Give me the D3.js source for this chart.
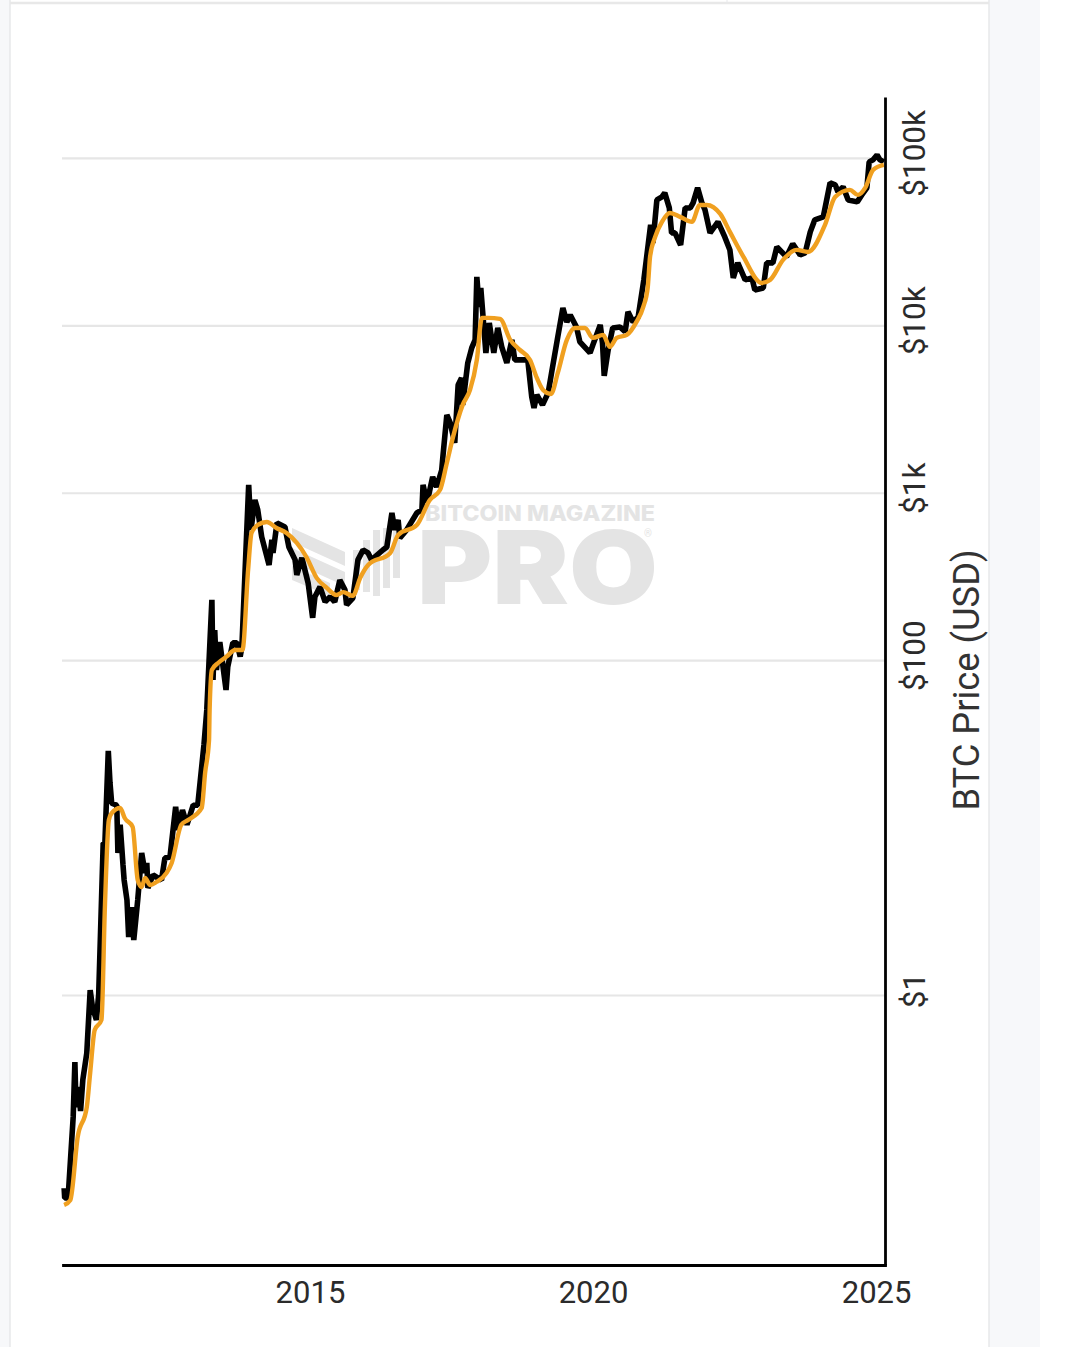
<!DOCTYPE html>
<html>
<head>
<meta charset="utf-8">
<script src="https://cdn.jsdelivr.net/npm/d3@7"></script>
<style>
  html, body { margin: 0; padding: 0; background: #fff; }
  svg { display: block; }
  text { font-family: Roboto, sans-serif; }
</style>
</head>
<body>
<svg id="chart" width="1078" height="1347"></svg>
<script>
// BTC price
const priceYears = [2010.64,2010.65,2010.71,2010.80,2010.83,2010.85,2010.89,2010.93,2010.97,2011.04,2011.10,2011.14,2011.21,2011.25,2011.33,2011.36,2011.42,2011.45,2011.48,2011.57,2011.59,2011.63,2011.68,2011.70,2011.75,2011.78,2011.83,2011.87,2011.94,2012.01,2012.07,2012.10,2012.12,2012.21,2012.36,2012.42,2012.51,2012.61,2012.65,2012.73,2012.81,2012.92,2013.00,2013.11,2013.16,2013.25,2013.27,2013.30,2013.33,2013.39,2013.50,2013.53,2013.62,2013.69,2013.75,2013.78,2013.90,2013.94,2014.01,2014.06,2014.13,2014.26,2014.31,2014.33,2014.40,2014.54,2014.61,2014.72,2014.75,2014.84,2014.95,2015.03,2015.07,2015.16,2015.25,2015.34,2015.42,2015.51,2015.60,2015.63,2015.74,2015.83,2015.92,2016.01,2016.07,2016.27,2016.34,2016.43,2016.48,2016.54,2016.57,2016.69,2016.87,2016.96,2016.98,2017.05,2017.15,2017.22,2017.31,2017.33,2017.40,2017.46,2017.54,2017.60,2017.66,2017.68,2017.77,2017.84,2017.90,2017.93,2017.97,2018.00,2018.04,2018.09,2018.15,2018.23,2018.30,2018.37,2018.46,2018.55,2018.60,2018.83,2018.90,2018.94,2018.99,2019.09,2019.19,2019.25,2019.36,2019.45,2019.52,2019.58,2019.69,2019.75,2019.93,2019.98,2020.11,2020.15,2020.18,2020.25,2020.33,2020.46,2020.55,2020.60,2020.69,2020.78,2020.88,2021.00,2021.04,2021.11,2021.20,2021.25,2021.33,2021.37,2021.43,2021.53,2021.61,2021.70,2021.75,2021.83,2021.90,2021.96,2022.05,2022.19,2022.31,2022.40,2022.46,2022.54,2022.67,2022.79,2022.84,2022.99,2023.05,2023.16,2023.23,2023.40,2023.51,2023.64,2023.73,2023.82,2023.90,2024.05,2024.17,2024.26,2024.31,2024.40,2024.49,2024.65,2024.73,2024.82,2024.86,2024.93,2025.00,2025.05,2025.12];
const priceValues = [0.0703,0.0613,0.0613,0.187,0.398,0.214,0.282,0.203,0.311,0.45,1.07,0.848,0.71,1.0,8.09,8.09,28.7,18.5,14.0,13.6,7.05,10.4,5.98,4.86,3.69,2.22,3.35,2.13,3.69,7.05,5.36,6.15,4.36,5.21,4.86,6.58,6.68,13.3,9.67,12.7,10.4,13.6,13.6,31.2,50.4,229,76.1,151,87.4,128,66.4,91,127,127,105,120,1113,600,906,790,545,370,523,437,660,625,474,397,323,408,289,179,239,274,223,239,223,301,263,214,235,397,455,437,397,455,474,757,600,688,537,600,757,790,1113,869,1243,1083,1368,1637,2916,2612,1984,4405,4850,3347,5960,7330,8185,19470,12880,16720,11220,6840,10330,6840,9645,7430,5960,8185,6213,6213,3735,3212,3840,3347,3946,5197,8530,12700,10480,11530,9780,7960,6840,7640,10050,7850,4985,7130,9645,9780,9140,12030,10480,11220,18670,39800,31050,56100,58480,61800,50240,35650,35650,30200,50240,50240,53830,66200,54600,48900,35650,41500,33730,28200,19190,23590,18670,19190,16260,16720,23590,23590,29380,25640,30620,26360,27060,36140,42660,44450,70950,69000,62660,67100,56100,54600,60100,66200,94650,97300,104200,97300,94650];

// orange moving average
const maYears = [2010.64,2010.75,2010.88,2011.04,2011.10,2011.18,2011.30,2011.36,2011.43,2011.48,2011.63,2011.71,2011.85,2011.94,2012.01,2012.07,2012.16,2012.27,2012.45,2012.54,2012.71,2012.83,2013.07,2013.13,2013.20,2013.21,2013.25,2013.36,2013.51,2013.66,2013.79,2013.89,2013.95,2014.06,2014.22,2014.39,2014.57,2014.75,2014.92,2015.10,2015.28,2015.45,2015.57,2015.74,2015.87,2016.01,2016.40,2016.54,2016.87,2017.10,2017.28,2017.40,2017.51,2017.68,2017.81,2017.93,2018.02,2018.13,2018.34,2018.52,2018.69,2018.87,2018.99,2019.10,2019.24,2019.36,2019.52,2019.66,2019.84,2019.98,2020.16,2020.28,2020.40,2020.58,2020.75,2020.87,2020.95,2020.99,2021.08,2021.20,2021.34,2021.52,2021.73,2021.87,2021.99,2022.23,2022.40,2022.64,2022.96,2023.11,2023.34,2023.58,2023.78,2024.08,2024.26,2024.52,2024.66,2024.79,2024.93,2025.12];
const maValues = [0.0557,0.0596,0.142,0.214,0.342,0.618,0.71,3.35,11.1,12.2,13.1,11.4,10.1,4.86,4.42,5.0,4.54,4.73,5.36,6.15,10.4,11.1,13.1,21.2,33.4,50.4,87.4,96.2,105,115,115,346,575,642,669,616,575,501,413,310,270,245,255,242,310,370,437,560,642,906,1040,1507,2155,3347,4110,6213,11070,11070,10920,8185,7130,6213,4850,4110,3891,5197,8185,9645,9645,8410,8770,7430,8410,8770,10480,12880,16960,25640,33730,41500,46900,44450,41500,52360,52360,46250,36140,25640,17910,18670,24600,28200,27420,39800,58480,64420,60100,66200,84800,90800];

const xTicks = [2015, 2020, 2025];
const yTicks = [1, 100, 1000, 10000, 100000];
const yTickLabels = ["$1", "$100", "$1k", "$10k", "$100k"];

const svg = d3.select("#chart");

// page behind the chart card
svg.append("rect").attr("width", 1040).attr("height", 1347).attr("fill", "#f7f8fa");
svg.append("rect").attr("x", 10).attr("y", 0).attr("width", 979).attr("height", 1347).attr("fill", "#fff");
svg.append("line").attr("x1", 10).attr("x2", 10).attr("y1", 0).attr("y2", 1347).attr("stroke", "#e7e8ea").attr("stroke-width", 1.5);
svg.append("line").attr("x1", 989).attr("x2", 989).attr("y1", 0).attr("y2", 1347).attr("stroke", "#e7e8ea").attr("stroke-width", 1.5);
svg.append("line").attr("x1", 10).attr("x2", 989).attr("y1", 3).attr("y2", 3).attr("stroke", "#e8e8e8").attr("stroke-width", 2.5);
svg.append("line").attr("x1", 727).attr("x2", 727).attr("y1", 0).attr("y2", 3).attr("stroke", "#e7e8ea");

// scales, ends picked so 2015/2020/2025 and the decades land where the picture has them
const x = d3.scaleLinear().domain([2010.62, 2025.14]).range([63, 885]);
const y = d3.scaleLog().domain([0.0244, 231000]).range([1265, 97]);

// grid lines
svg.append("g").selectAll("line").data(yTicks).enter().append("line")
  .attr("x1", 62).attr("x2", 885)
  .attr("y1", (d) => y(d) + 0.5).attr("y2", (d) => y(d) + 0.5)
  .attr("stroke", "#e6e6e6").attr("stroke-width", 2.2);

// watermark
const mark = svg.append("g").attr("fill", "#e4e4e4");
mark.append("text").attr("x", 425).attr("y", 521).attr("font-size", 22).attr("font-weight", 800)
  .style("font-family", "Inter").attr("textLength", 230).attr("lengthAdjust", "spacingAndGlyphs")
  .text("BITCOIN MAGAZINE");
mark.append("text").attr("x", 417).attr("y", 604).attr("font-size", 102).attr("font-weight", 900)
  .style("font-family", "Inter").attr("textLength", 241).attr("lengthAdjust", "spacingAndGlyphs")
  .text("PRO");
mark.append("text").attr("x", 644).attr("y", 537).attr("font-size", 10).text("®");
// logo: chevrons and candles
mark.append("path").attr("d", "M292 528 L345 552 L345 566 L292 542 Z M292 548 L345 572 L345 586 L292 562 Z M292 566 L330 583 L330 596 L292 580 Z");
mark.selectAll("rect.candle").data([[353, 550, 40], [363, 540, 52], [373, 530, 66], [383, 528, 60], [393, 530, 48]])
  .enter().append("rect").attr("class", "candle")
  .attr("x", (d) => d[0]).attr("y", (d) => d[1]).attr("width", 7).attr("height", (d) => d[2]);

// series
const priceLine = d3.line().x((d) => x(d[0])).y((d) => y(d[1]));
svg.append("path").datum(d3.zip(priceYears, priceValues))
  .attr("d", priceLine).attr("fill", "none").attr("stroke", "#000")
  .attr("stroke-width", 5.6).attr("stroke-linejoin", "bevel");
svg.append("path").datum(d3.zip(maYears, maValues))
  .attr("d", d3.line().x((d) => x(d[0])).y((d) => y(d[1])).curve(d3.curveMonotoneX))
  .attr("fill", "none").attr("stroke", "#f0a020")
  .attr("stroke-width", 4.4).attr("stroke-linejoin", "round");

// axes
const xAxis = svg.append("g").attr("transform", "translate(0,1265)")
  .call(d3.axisBottom(x).tickValues(xTicks).tickFormat(d3.format("d")).tickSize(0).tickPadding(16));
xAxis.selectAll("text").attr("font-size", 31).attr("fill", "#2b2b2b").style("font-family", "Roboto").attr("dx", -1);
xAxis.select(".domain").attr("stroke", "#000").attr("stroke-width", 2.8).attr("stroke-linecap", "square");

const yAxis = svg.append("g").attr("transform", "translate(885,0)")
  .call(d3.axisRight(y).tickValues(yTicks).tickFormat((d, i) => yTickLabels[i]).tickSize(0));
yAxis.selectAll("text")
  .attr("font-size", 31.5).attr("fill", "#2b2b2b").style("font-family", "Roboto")
  .attr("text-anchor", "middle").attr("x", 0).attr("dy", 0)
  .attr("transform", "translate(40,-5) rotate(-90)");
yAxis.select(".domain").attr("stroke", "#000").attr("stroke-width", 2.8);

svg.append("text")
  .attr("transform", "translate(979,680) rotate(-90)")
  .attr("text-anchor", "middle").attr("font-size", 36.3).attr("fill", "#333")
  .text("BTC Price (USD)");
</script>
</body>
</html>
